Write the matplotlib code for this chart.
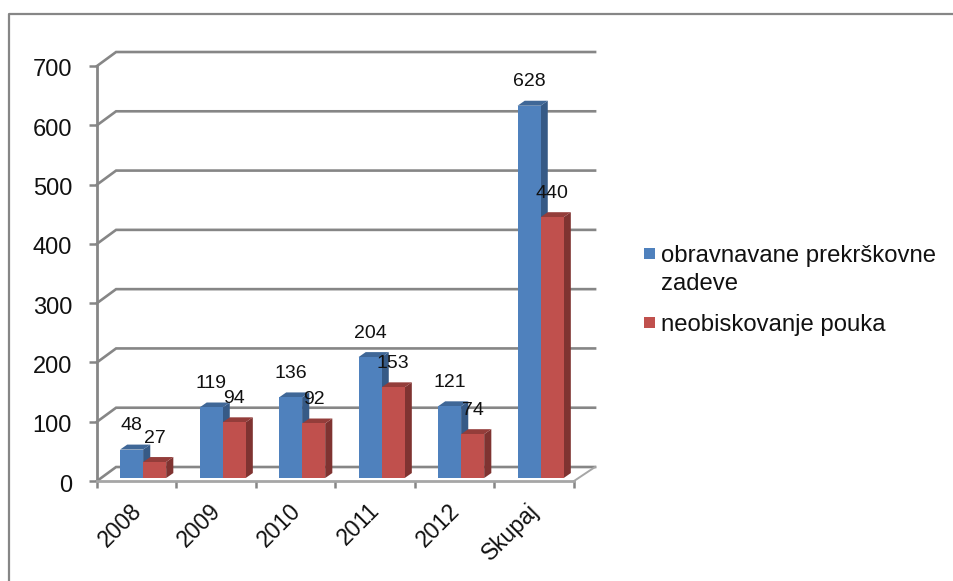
import matplotlib
matplotlib.use('Agg')
import matplotlib.pyplot as plt
from matplotlib.lines import Line2D
from matplotlib.patches import Rectangle
from matplotlib.transforms import ScaledTranslation

plt.rcParams['font.family'] = ['Liberation Sans', 'DejaVu Sans']

years = ['2008', '2009', '2010', '2011', '2012', 'Skupaj']
zadeve = [48, 119, 136, 204, 121, 628]
pouka = [27, 94, 92, 153, 74, 440]
y_ticks = [0, 100, 200, 300, 400, 500, 600, 700]
legend_names = ['obravnavane prekrškovne\nzadeve', 'neobiskovanje pouka']

W, H = 954, 581
GRID = '#868686'
# depth of the fake 3d, in data units
WALL_X, WALL_Y = 0.24, 23.6
BAR_DX, BAR_DY = 0.09, 8.4
BAR_W = 0.29
BAR_START = 0.29
BASE = 5


def draw_bar(ax, x, val, front, side, top):
    y0, y1 = BASE, BASE + val
    ax.fill([x + BAR_W, x + BAR_W + BAR_DX, x + BAR_W + BAR_DX, x + BAR_W],
            [y0, y0 + BAR_DY, y1 + BAR_DY, y1], color=side, lw=0, zorder=3)
    ax.fill([x, x + BAR_DX, x + BAR_W + BAR_DX, x + BAR_W],
            [y1, y1 + BAR_DY, y1 + BAR_DY, y1], color=top, lw=0, zorder=3)
    ax.bar(x, val, BAR_W, bottom=BASE, align='edge', color=front, lw=0, zorder=3)
    ax.annotate(str(val), (x + BAR_W / 2, y1), xytext=(0, 24), textcoords='offset pixels',
                ha='center', va='center', fontsize=14, color='#111111', zorder=5,
                annotation_clip=False)


fig = plt.figure(figsize=(W / 100, H / 100), dpi=100)
ax = fig.add_axes([97 / W, 1 - 481 / H, 477 / W, 415 / H])
ax.set_xlim(0, 6)
ax.set_ylim(0, 700)

# outer frame, only left and top show up
fig.add_artist(Line2D([9 / W, 9 / W, 1], [0, 1 - 14 / H, 1 - 14 / H], color=GRID, lw=1.6))

# back wall grid
for v in y_ticks:
    ax.plot([0, WALL_X, 6 + WALL_X + 0.025], [v, v + WALL_Y, v + WALL_Y], color=GRID, lw=1.9,
            clip_on=False, zorder=1, solid_joinstyle='miter')
ax.plot([6, 6 + WALL_X + 0.025], [0, WALL_Y], color='#a6a6a6', lw=1.4, clip_on=False, zorder=1)

for i in range(len(years)):
    draw_bar(ax, i + BAR_START, zadeve[i], '#4F81BD', '#365A86', '#3F6797')
    draw_bar(ax, i + BAR_START + BAR_W, pouka[i], '#C0504D', '#7F3331', '#943D3A')

for s in ['top', 'right']:
    ax.spines[s].set_visible(False)
ax.spines['left'].set_color(GRID)
ax.spines['left'].set_linewidth(2)
ax.spines['bottom'].set_color('#a6a6a6')
ax.spines['bottom'].set_linewidth(2)
ax.set_facecolor('none')

ax.set_yticks(y_ticks)
ax.set_xticks(range(7))
ax.set_xticklabels([])
ax.tick_params(axis='y', length=6, width=1.8, color=GRID, labelsize=17, pad=12, labelcolor='#111111')
ax.tick_params(axis='x', length=5, width=1.8, color=GRID)
for lab in ax.get_yticklabels():
    lab.set_transform(lab.get_transform() + ScaledTranslation(0, -2 / 100, fig.dpi_scale_trans))

for i, name in enumerate(years):
    ax.annotate(name, (i + 0.5, 0), xytext=(-7, -18), textcoords='offset pixels', rotation=45,
                ha='right', va='top', rotation_mode='anchor', fontsize=16.5, color='#111111',
                annotation_clip=False)

# legend by hand, first swatch sits on the first line of a wrapped label
fig.add_artist(Rectangle((644 / W, 1 - 259 / H), 11 / W, 11 / H, color='#4F81BD', lw=0,
                         transform=fig.transFigure))
fig.add_artist(Rectangle((644 / W, 1 - 328 / H), 11 / W, 11 / H, color='#C0504D', lw=0,
                         transform=fig.transFigure))
fig.text(661 / W, 1 - 245 / H, legend_names[0], ha='left', va='top', fontsize=17.2,
         linespacing=1.33, multialignment='left', color='#111111')
fig.text(661 / W, 1 - 325 / H, legend_names[1], ha='left', va='center', fontsize=17.2, color='#111111')

fig.savefig('out.png', dpi=100)
